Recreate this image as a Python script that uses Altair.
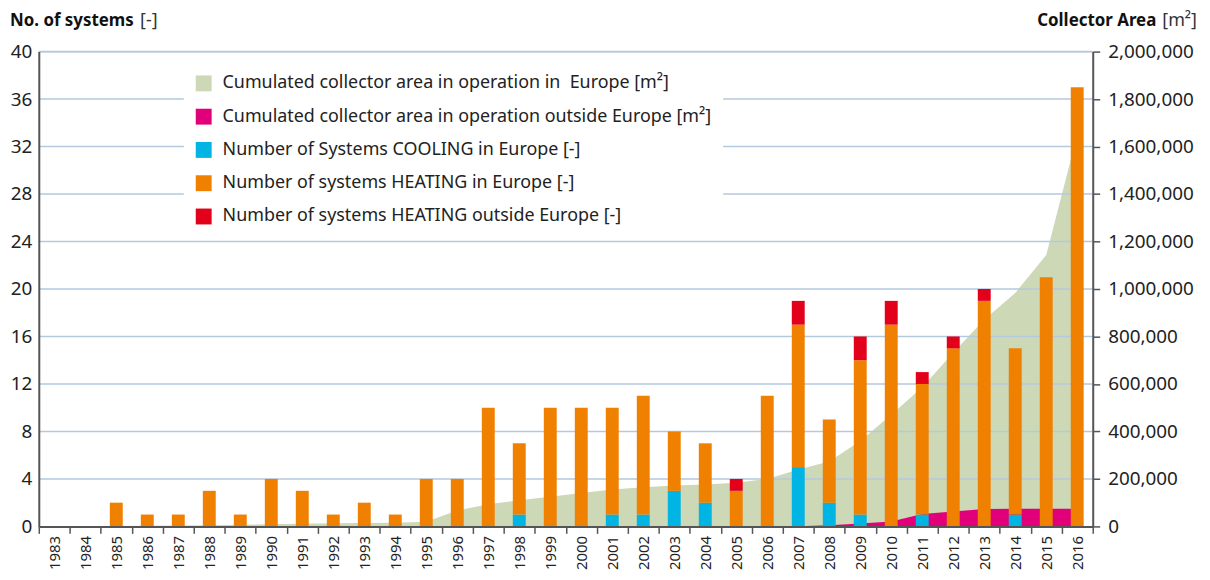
import altair as alt
import pandas as pd

years = [str(y) for y in range(1983, 2017)]

cooling_eu = [0, 0, 0, 0, 0, 0, 0, 0, 0, 0, 0, 0, 0, 0, 0, 1, 0, 0, 1, 1, 3, 2, 0, 0, 5, 2, 1, 0, 1, 0, 0, 1, 0, 0]
heating_eu = [0, 0, 2, 1, 1, 3, 1, 4, 3, 1, 2, 1, 4, 4, 10, 6, 10, 10, 9, 10, 5, 5, 3, 11, 12, 7, 13, 17, 11, 15, 19, 14, 21, 37]
heating_out = [0, 0, 0, 0, 0, 0, 0, 0, 0, 0, 0, 0, 0, 0, 0, 0, 0, 0, 0, 0, 0, 0, 1, 0, 2, 0, 2, 2, 1, 1, 1, 0, 0, 0]

area_eu = [0, 500, 1500, 3000, 4000, 5000, 7000, 9000, 11000, 13000, 14000, 15000, 20000, 67000,
           93000, 110000, 125000, 141000, 156000, 165000, 172000, 177000, 184000, 200000, 240000,
           273000, 360000, 470000, 586000, 732000, 871000, 983000, 1143000, 1650000]
area_out = [0] * 24 + [1000, 5000, 12500, 21000, 52000, 63000, 73000, 74000, 74000, 74000]

series_names = [
    "Cumulated collector area in operation in \u00a0Europe [m²]",
    "Cumulated collector area in operation outside Europe [m²]",
    "Number of Systems COOLING in Europe [-]",
    "Number of systems HEATING in Europe [-]",
    "Number of systems HEATING outside Europe [-]",
]
series_colors = ["#cdd8b6", "#e2007a", "#00b4e4", "#f08000", "#e2001a"]

left_ticks = [0, 4, 8, 12, 16, 20, 24, 28, 32, 36, 40]
grid_values = [4, 8, 12, 16, 20, 24, 28, 32, 36, 40]
right_ticks = [0, 200000, 400000, 600000, 800000, 1000000, 1200000, 1400000, 1600000, 1800000, 2000000]

FONT = "Noto Sans"
TXT = "#222222"
AXC = "#555555"

# ---- data tables
bar_rows = []
for i, y in enumerate(years):
    bar_rows.append({"year": y, "series": series_names[2], "value": cooling_eu[i], "ord": 0})
    bar_rows.append({"year": y, "series": series_names[3], "value": heating_eu[i], "ord": 1})
    bar_rows.append({"year": y, "series": series_names[4], "value": heating_out[i], "ord": 2})
bars_df = pd.DataFrame(bar_rows)

eu_df = pd.DataFrame({"year": years, "value": area_eu, "series": series_names[0]})
out_df = pd.DataFrame({"year": years, "value": area_out, "series": series_names[1]})
grid_df = pd.DataFrame({"g": grid_values})
one = pd.DataFrame({"k": [0]})

xenc = alt.X(
    "year:N",
    sort=years,
    scale=alt.Scale(paddingInner=0, paddingOuter=0),
    axis=alt.Axis(
        title=None, labelAngle=-90, labelFontSize=15, labelColor=TXT, labelFont=FONT,
        labelPadding=2, tickBand="extent", ticks=True, tickSize=7, tickColor=AXC,
        tickWidth=1.5, domainColor=AXC, domainWidth=2, grid=False, zindex=1,
        labelAlign="right", labelBaseline="middle",
    ),
)

color = alt.Color(
    "series:N",
    scale=alt.Scale(domain=series_names, range=series_colors),
    legend=alt.Legend(
        title=None, orient="none", legendX=146, legendY=12, fillColor="white",
        padding=11, symbolType="square", symbolSize=256, symbolStrokeWidth=0,
        symbolOpacity=1, labelFontSize=18, labelFont=FONT, labelColor=TXT,
        rowPadding=15.5, labelOffset=10, zindex=2, labelLimit=700,
    ),
)

yR_scale = alt.Scale(domain=[0, 2000000], nice=False)
yR_axis = alt.Axis(
    orient="right", title=None, values=right_ticks, format=",d", labelFontSize=19,
    labelFont=FONT, labelColor=TXT, ticks=True, tickSize=7, tickColor=AXC, tickWidth=1.5,
    domainColor=AXC, domainWidth=2, labelPadding=8, grid=False, zindex=1,
)
yL_scale = alt.Scale(domain=[0, 40], nice=False)
yL_axis = alt.Axis(
    orient="left", title=None, values=left_ticks, labelFontSize=19, labelFont=FONT,
    labelColor=TXT, ticks=False, domainColor=AXC, domainWidth=2, labelPadding=7,
    grid=False, zindex=1,
)

green = alt.Chart(eu_df).mark_area(opacity=1).encode(
    x=xenc, y=alt.Y("value:Q", scale=yR_scale, axis=yR_axis, stack=None), color=color
)
magenta = alt.Chart(out_df).mark_area(opacity=1).encode(
    x=xenc, y=alt.Y("value:Q", scale=yR_scale, axis=yR_axis, stack=None), color=color
)
areas = alt.layer(green, magenta)

rules = alt.Chart(grid_df).mark_rule(color="#b3c9de", strokeWidth=1.6).encode(
    y=alt.Y("g:Q", scale=yL_scale, axis=yL_axis)
)
bars = alt.Chart(bars_df).mark_bar(size=13).encode(
    x=xenc,
    y=alt.Y("value:Q", scale=yL_scale, axis=yL_axis, stack="zero"),
    color=color,
    order=alt.Order("ord:Q", sort="ascending"),
)

t1 = alt.Chart(one).mark_text(text="No. of systems", font=FONT, fontSize=17, fontWeight="bold",
                              color="#111111", align="left", baseline="middle").encode(
    x=alt.value(-29), y=alt.value(-31))
t2 = alt.Chart(one).mark_text(text="[-]", font=FONT, fontSize=18, color="#333333",
                              align="left", baseline="middle").encode(
    x=alt.value(102), y=alt.value(-31))
t3 = alt.Chart(one).mark_text(text="Collector Area", font=FONT, fontSize=17, fontWeight="bold",
                              color="#111111", align="right", baseline="middle").encode(
    x=alt.value(1125), y=alt.value(-31))
t4 = alt.Chart(one).mark_text(text="[m²]", font=FONT, fontSize=18, color="#333333",
                              align="left", baseline="middle").encode(
    x=alt.value(1131), y=alt.value(-31))

left_group = alt.layer(rules, bars, t1, t2, t3, t4)

chart = alt.layer(areas, left_group).resolve_scale(y="independent").properties(
    width=1061, height=478,
    autosize=alt.AutoSizeParams(type="none"),
    padding={"left": 31, "top": 42, "right": 110, "bottom": 44},
).configure_view(stroke=None).configure(font=FONT)

chart.save("out.html", embed_options={"renderer": "svg", "actions": False})
